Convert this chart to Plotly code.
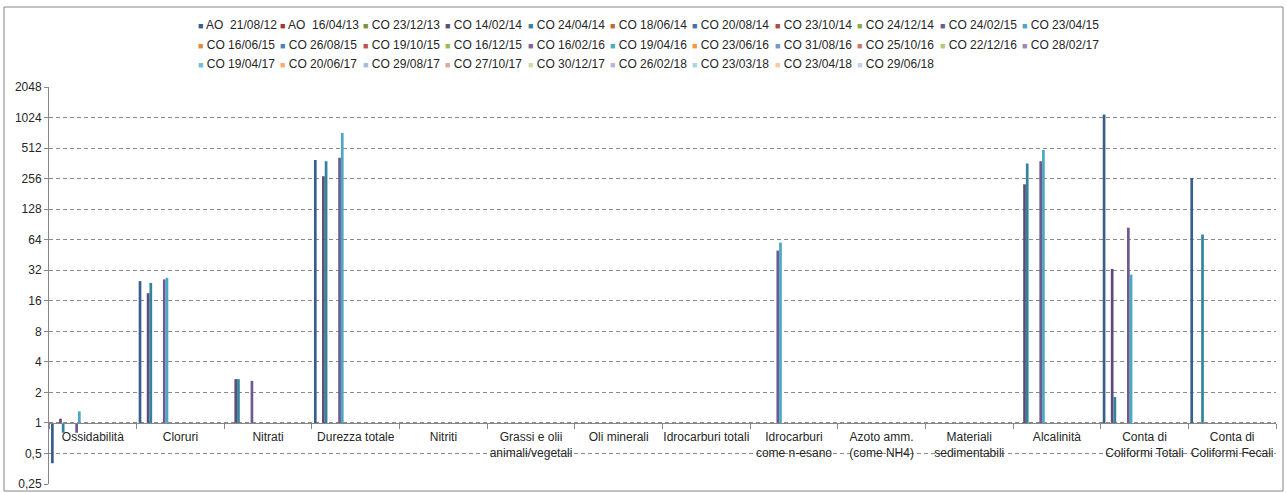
import plotly.graph_objects as go

# Parameters (x categories)
categories = [
    "Ossidabilità", "Cloruri", "Nitrati", "Durezza totale", "Nitriti",
    "Grassi e olii<br>animali/vegetali", "Oli minerali", "Idrocarburi totali",
    "Idrocarburi<br>come n-esano", "Azoto amm.<br>(come NH4)",
    "Materiali<br>sedimentabili", "Alcalinità",
    "Conta di<br>Coliformi Totali", "Conta di<br>Coliformi Fecali",
]

# Sampling campaigns, in legend order
series_names = [
    "AO\u00a0 21/08/12", "AO\u00a0 16/04/13", "CO 23/12/13", "CO 14/02/14", "CO 24/04/14",
    "CO 18/06/14", "CO 20/08/14", "CO 23/10/14", "CO 24/12/14", "CO 24/02/15",
    "CO 23/04/15", "CO 16/06/15", "CO 26/08/15", "CO 19/10/15", "CO 16/12/15",
    "CO 16/02/16", "CO 19/04/16", "CO 23/06/16", "CO 31/08/16", "CO 25/10/16",
    "CO 22/12/16", "CO 28/02/17", "CO 19/04/17", "CO 20/06/17", "CO 29/08/17",
    "CO 27/10/17", "CO 30/12/17", "CO 26/02/18", "CO 23/03/18", "CO 23/04/18",
    "CO 29/06/18",
]

series_colors = [
    "#3A5F8F", "#943B39", "#77933C", "#5F4B7A", "#31849B", "#B66D31",
    "#4570A8", "#B24846", "#8CAA4E", "#6E5A93", "#4AA8C2", "#E0893F",
    "#4F81BD", "#C0504D", "#9BBB59", "#8064A2", "#4BACC6", "#F79646",
    "#7295CC", "#CD7472", "#AFCB79", "#9A86B6", "#70BED3", "#F9AC70",
    "#A5BBDD", "#DDA5A4", "#CADDA8", "#BFB2D3", "#A7D6E3", "#FBC6A1",
    "#C4D2E8",
]

# Measured values per campaign (None = not measured)
ao_21_08_12 = [0.4, 25, None, 390, None, None, None, None, None, None, None, None, 1100, 260]
co_14_02_14 = [1.1, 19, 2.7, 270, None, None, None, None, None, None, None, 225, 33, None]
co_24_04_14 = [0.8, 24, 2.7, 380, None, None, None, None, None, None, None, 360, 1.8, 72]
co_24_02_15 = [0.8, 26, 2.6, 410, None, None, None, None, 50, None, None, 380, 84, None]
co_23_04_15 = [1.3, 27, None, 720, None, None, None, None, 60, None, None, 490, 29, None]

measured = {
    "AO\u00a0 21/08/12": ao_21_08_12,
    "CO 14/02/14": co_14_02_14,
    "CO 24/04/14": co_24_04_14,
    "CO 24/02/15": co_24_02_15,
    "CO 23/04/15": co_23_04_15,
}

y_ticks = [2048, 1024, 512, 256, 128, 64, 32, 16, 8, 4, 2, 1, 0.5, 0.25]
y_tick_text = ["2048", "1024", "512", "256", "128", "64", "32", "16", "8", "4", "2", "1", "0,5", "0,25"]

W, H = 1287, 493
ML, MR, MT, MB = 49, 11, 87, 9
PW, PH = W - ML - MR, H - MT - MB
FONT = "Liberation Sans, Arial, sans-serif"
TEXT = "#262626"
AXIS = "#868686"


def px_x(px):
    return (px - ML) / PW


def px_y(py):
    return (H - MB - py) / PH


fig = go.Figure()

# Bars grow from 1 (the category axis crosses the log axis at 1)
for name, color in zip(series_names, series_colors):
    vals = measured.get(name, [None] * len(categories))
    fig.add_trace(go.Bar(
        x=categories,
        y=[None if v is None else v - 1 for v in vals],
        base=1,
        name=name,
        marker=dict(color=color, line=dict(width=0)),
        showlegend=False,
        customdata=vals,
        hovertemplate="%{x}: %{customdata}<extra>" + name + "</extra>",
    ))

# Legend: 11 entries per row
annotations = []
for i, (name, color) in enumerate(zip(series_names, series_colors)):
    row, col = divmod(i, 11)
    annotations.append(dict(
        xref="paper", yref="paper",
        x=px_x(196 + 82.4 * col), y=px_y(25 + 19.5 * row),
        xanchor="left", yanchor="middle",
        text=f"<span style='color:{color};font-size:9px'>■</span> {name}",
        showarrow=False,
        font=dict(family=FONT, size=12, color=TEXT),
    ))

fig.update_layout(
    width=W, height=H,
    margin=dict(l=ML, r=MR, t=MT, b=MB),
    paper_bgcolor="white", plot_bgcolor="white",
    barmode="group", bargap=1.5 / 32.5, bargroupgap=0,
    font=dict(family=FONT, size=12, color=TEXT),
    annotations=annotations,
    shapes=[dict(
        type="rect", xref="paper", yref="paper",
        x0=px_x(4), x1=px_x(1283), y0=px_y(491), y1=px_y(7),
        line=dict(color=AXIS, width=1), layer="below",
    )],
    xaxis=dict(
        type="category", anchor="free", position=2 / 13,
        showline=True, linecolor=AXIS, linewidth=1,
        ticks="outside", tickson="boundaries", ticklen=5, tickcolor=AXIS,
        ticklabelstandoff=3,
        showgrid=False, tickfont=dict(family=FONT, size=12, color=TEXT),
        tickangle=0, automargin=False,
    ),
    yaxis=dict(
        type="log", range=[-0.60206, 3.311330],
        tickvals=y_ticks, ticktext=y_tick_text,
        showline=True, linecolor=AXIS, linewidth=1,
        ticks="outside", ticklen=4, tickcolor=AXIS,
        showgrid=True, gridcolor="#8C8C8C", griddash="4px,3px", gridwidth=1,
        zeroline=False, automargin=False,
        tickfont=dict(family=FONT, size=12, color=TEXT),
    ),
)

fig.write_html("out.html")
